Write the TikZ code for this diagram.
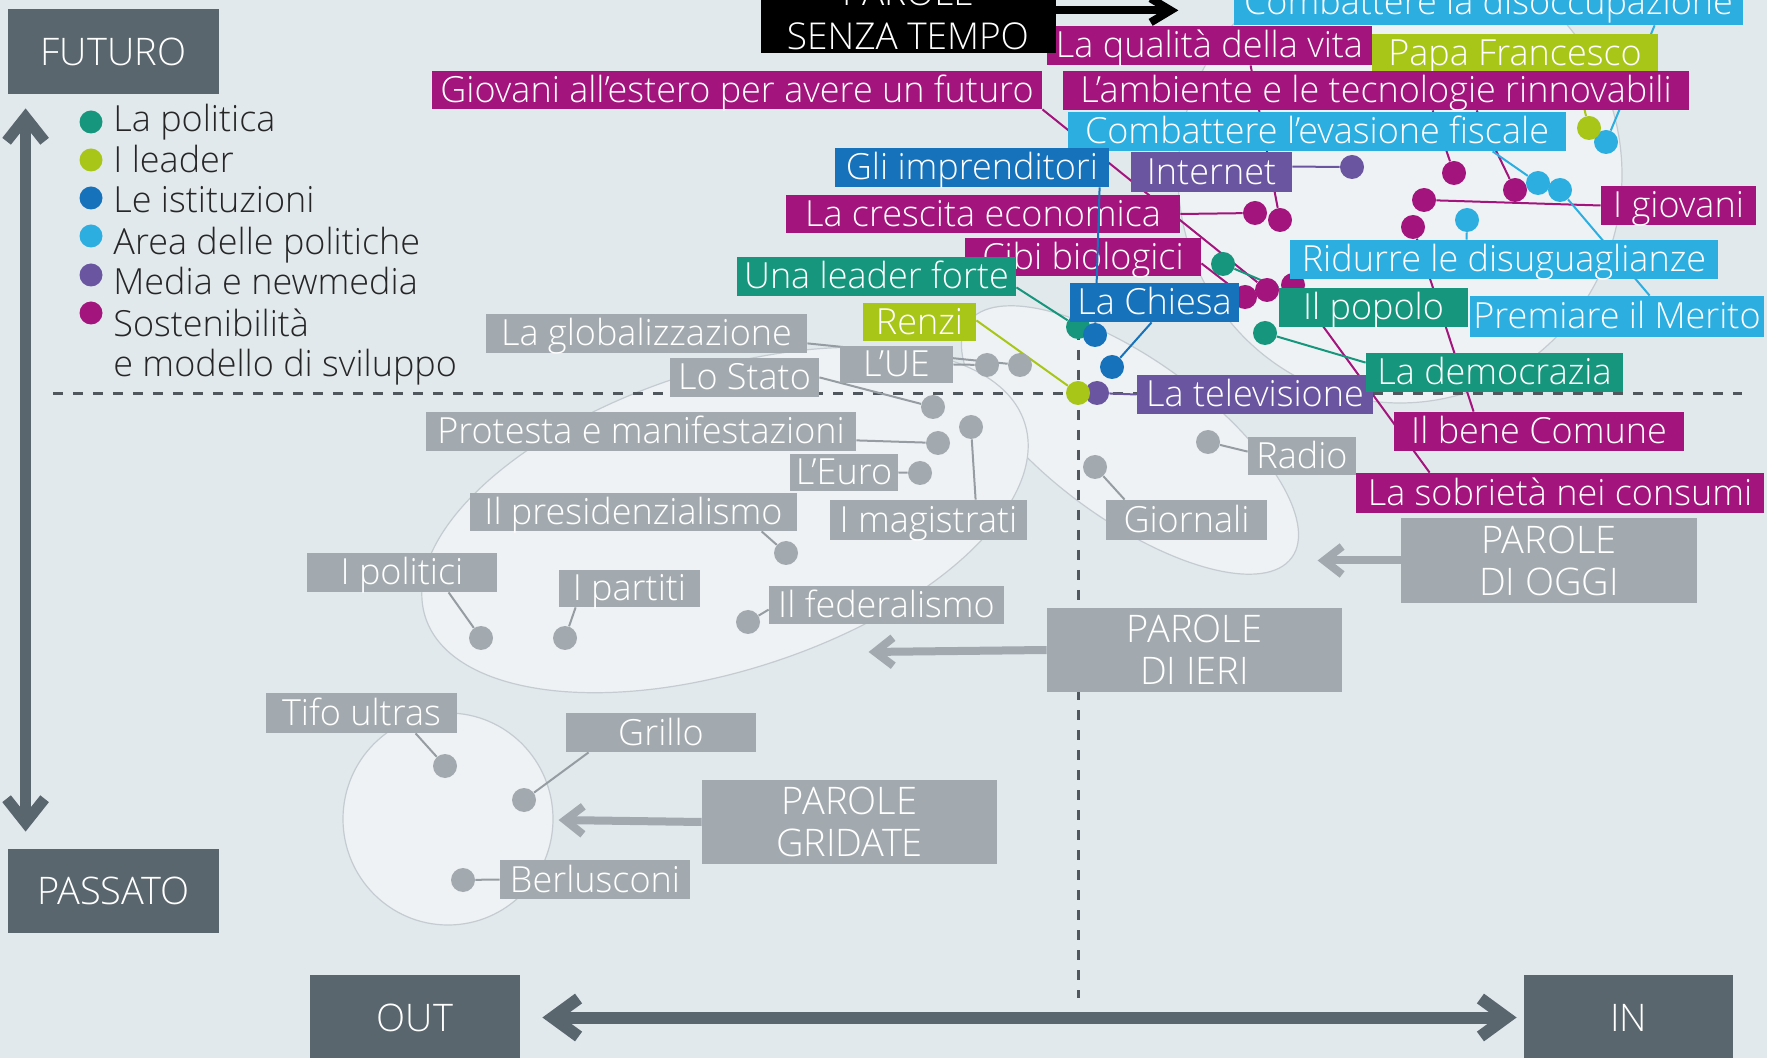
\documentclass[tikz,border=0pt]{standalone}
\usepackage{fontspec}
\IfFontExistsTF{Open Sans Light}{\setmainfont{Open Sans Light}}{\setmainfont{Open Sans}}
\usetikzlibrary{arrows.meta,calc}
\definecolor{bg}{RGB}{226,233,237}
\definecolor{ellf}{RGB}{238,242,244}
\definecolor{elld}{RGB}{196,204,209}
\definecolor{dk}{RGB}{90,102,110}
\definecolor{gr}{RGB}{163,170,175}
\definecolor{grl}{RGB}{150,157,162}
\definecolor{mg}{RGB}{163,20,125}
\definecolor{cy}{RGB}{44,174,224}
\definecolor{bl}{RGB}{22,114,186}
\definecolor{gn}{RGB}{22,150,124}
\definecolor{yg}{RGB}{168,198,24}
\definecolor{pu}{RGB}{106,86,160}
\definecolor{axis}{RGB}{80,88,93}
\pgfdeclarelayer{back}
\pgfdeclarelayer{lines}
\pgfdeclarelayer{dots}
\pgfdeclarelayer{top}
\pgfdeclarelayer{toptwo}
\pgfsetlayers{back,lines,dots,main,top,toptwo}
\newcommand{\lblfont}{\fontsize{18}{21}\selectfont}
\newcommand{\legfont}{\fontsize{18}{21}\selectfont}
\newcommand{\bigfont}{\fontsize{19}{21}\selectfont}
\newcommand{\mklab}[7]{\node[lbl, fill=#2, minimum width={((#5)-(#3))*0.5pt}, minimum height={((#6)-(#4))*0.5pt}] (#1) at ({((#3)+(#5))/2},{((#4)+(#6))/2}) {#7};}
\newcommand{\mkbig}[7]{\node[biglbl, fill=#2, minimum width={((#5)-(#3))*0.5pt}, minimum height={((#6)-(#4))*0.5pt}] (#1) at ({((#3)+(#5))/2},{((#4)+(#6))/2}) {#7};}
\newcommand{\mkdot}[4]{\node[dotc, fill=#2] (#1) at (#3,#4) {};}
\tikzset{
  lbl/.style={rectangle, inner sep=0pt, text=white, font=\lblfont, text height=12.5pt, text depth=0pt},
  biglbl/.style={rectangle, inner sep=0pt, text=white, font=\bigfont, align=center},
  dotc/.style={circle, inner sep=0pt, minimum size=12pt},
  ldot/.style={circle, inner sep=0pt, minimum size=11.5pt},
  legt/.style={inner sep=0pt, font=\legfont, text=black!85, anchor=base west},
  ln/.style={line width=1pt},
  ell/.style={fill=ellf, draw=elld, line width=0.6pt},
  axd/.style={draw=axis, line width=1.5pt, dash pattern=on 5pt off 5pt},
  bigarr/.style={draw=dk, line width=5.5pt},
  garr/.style={draw=gr, line width=4pt, -{Straight Barb[length=9pt,width=14pt]}},
}
\begin{document}
\begin{tikzpicture}[x=0.5pt, y=-0.5pt]
\useasboundingbox (0,0) rectangle (1767,1058);
\clip (0,0) rectangle (1767,1058);

\begin{pgfonlayer}{back}
\fill[bg] (0,0) rectangle (1767,1058);
% clouds
\draw[ell] (1400,175) ellipse (222 and 228);
\draw[ell, rotate around={-36:(1130,440)}] (1130,440) ellipse (200 and 80);
\draw[ell, rotate around={18:(725,520)}] (725,520) ellipse (315 and 150);
\draw[ell] (448,819) ellipse (105 and 106);
% axes
\draw[axd] (53,394) -- (1742,394);
\draw[axd] (1078,330) -- (1078,998);
\end{pgfonlayer}

% legend
\node[ldot, fill=gn] (ld1) at (91,122) {};
\node[ldot, fill=yg] (ld2) at (91,160) {};
\node[ldot, fill=bl] (ld3) at (91,198) {};
\node[ldot, fill=cy] (ld4) at (91,236) {};
\node[ldot, fill=pu] (ld5) at (91,275) {};
\node[ldot, fill=mg] (ld6) at (91,313) {};
\node[legt] (lt1) at (113,132) {La politica};
\node[legt] (lt2) at (113,173) {I leader};
\node[legt] (lt3) at (113,213) {Le istituzioni};
\node[legt] (lt4) at (113,255) {Area delle politiche};
\node[legt] (lt5) at (113,295) {Media e newmedia};
\node[legt] (lt6) at (113,337) {Sostenibilità};
\node[legt] (lt7) at (113,377) {e modello di sviluppo};

% dots
\begin{pgfonlayer}{dots}
\mkdot{dm1}{mg}{1255}{213}
\mkdot{dm2}{mg}{1280}{220}
\mkdot{dm3}{mg}{1245}{297}
\mkdot{dm4}{mg}{1267}{290}
\mkdot{dm5}{mg}{1293}{285}
\mkdot{dm6}{mg}{1424}{200}
\mkdot{dm7}{mg}{1413}{227}
\mkdot{dm8}{mg}{1454}{173}
\mkdot{dm9}{mg}{1515}{190}
\mkdot{dc1}{cy}{1606}{142}
\mkdot{dc2}{cy}{1538}{183}
\mkdot{dc3}{cy}{1560}{190}
\mkdot{dc4}{cy}{1467}{220}
\mkdot{dy1}{yg}{1589}{128}
\mkdot{dg1}{gn}{1078}{327}
\mkdot{db1}{bl}{1095}{335}
\mkdot{dg2}{gn}{1223}{264}
\mkdot{dg3}{gn}{1265}{333}
\mkdot{db2}{bl}{1112}{367}
\mkdot{dp1}{pu}{1352}{167}
\mkdot{dp2}{pu}{1097}{393}
\mkdot{dy2}{yg}{1078}{393}
\mkdot{dz1}{gr}{987}{365}
\mkdot{dz2}{gr}{1020}{365}
\mkdot{dz3}{gr}{933}{407}
\mkdot{dz4}{gr}{938}{443}
\mkdot{dz5}{gr}{971}{427}
\mkdot{dz6}{gr}{920}{473}
\mkdot{dz7}{gr}{786}{553}
\mkdot{dz8}{gr}{481}{638}
\mkdot{dz9}{gr}{565}{638}
\mkdot{dz10}{gr}{748}{622}
\mkdot{dz11}{gr}{445}{766}
\mkdot{dz12}{gr}{524}{800}
\mkdot{dz13}{gr}{463}{880}
\mkdot{dz14}{gr}{1208}{442}
\mkdot{dz15}{gr}{1095}{467}
\end{pgfonlayer}

% label boxes
\mklab{dis}{cy}{1234}{-20}{1743}{25}{Combattere la disoccupazione}
\mklab{qua}{mg}{1047}{26}{1372}{65}{La qualità della vita}
\mklab{pap}{yg}{1372}{34}{1658}{73}{Papa Francesco}
\mklab{gio}{mg}{432}{71}{1042}{109}{Giovani all’estero per avere un futuro}
\mklab{amb}{mg}{1063}{71}{1689}{110}{L’ambiente e le tecnologie rinnovabili}
\mklab{eva}{cy}{1068}{112}{1566}{151}{Combattere l’evasione fiscale}
\mklab{imp}{bl}{835}{148}{1109}{187}{Gli imprenditori}
\mklab{int}{pu}{1131}{152}{1292}{192}{Internet}
\mklab{igi}{mg}{1601}{186}{1756}{225}{I giovani}
\mklab{cre}{mg}{786}{195}{1180}{233}{La crescita economica}
\mklab{cib}{mg}{965}{238}{1201}{276}{Cibi biologici}
\mklab{rid}{cy}{1290}{240}{1718}{279}{Ridurre le disuguaglianze}
\mklab{ulf}{gn}{737}{257}{1016}{296}{Una leader forte}
\mklab{pop}{gn}{1279}{288}{1468}{327}{Il popolo}
\mklab{pre}{cy}{1470}{296}{1764}{337}{Premiare il Merito}
\mklab{ren}{yg}{863}{303}{976}{341}{Renzi}
\mklab{glo}{gr}{486}{314}{807}{353}{La globalizzazione}
\mklab{ue}{gr}{840}{346}{953}{383}{L'UE}
\mklab{sta}{gr}{670}{358}{819}{397}{Lo Stato}
\mklab{tel}{pu}{1137}{375}{1373}{414}{La televisione}
\mklab{dem}{gn}{1366}{353}{1623}{392}{La democrazia}
\mklab{pro}{gr}{426}{412}{856}{451}{Protesta e manifestazioni}
\mklab{ben}{mg}{1394}{412}{1684}{451}{Il bene Comune}
\mklab{rad}{gr}{1248}{437}{1356}{475}{Radio}
\mklab{eur}{gr}{790}{454}{898}{491}{L’Euro}
\mklab{sob}{mg}{1356}{473}{1764}{513}{La sobrietà nei consumi}
\mklab{pres}{gr}{470}{493}{797}{531}{Il presidenzialismo}
\mklab{magi}{gr}{830}{500}{1027}{540}{I magistrati}
\mklab{gior}{gr}{1106}{500}{1267}{540}{Giornali}
\mklab{poli}{gr}{307}{553}{497}{592}{I politici}
\mklab{part}{gr}{559}{570}{700}{607}{I partiti}
\mklab{fede}{gr}{769}{586}{1004}{624}{Il federalismo}
\mklab{tifo}{gr}{266}{693}{457}{733}{Tifo ultras}
\mklab{gril}{gr}{566}{713}{756}{752}{Grillo}
\mklab{berl}{gr}{500}{860}{690}{899}{Berlusconi}
\begin{pgfonlayer}{toptwo}
\mklab{chi}{bl}{1070}{283}{1239}{322}{La Chiesa}
\end{pgfonlayer}

% big boxes
\mkbig{psnz}{black}{761}{-60}{1056}{53}{}
\node[font=\fontsize{18.5}{22}\selectfont, text=white, align=center, inner sep=0pt] (psnzt) at (908,14) {PAROLE\\SENZA TEMPO};
\mkbig{pieri}{gr}{1047}{608}{1342}{692}{PAROLE\\DI IERI}
\mkbig{poggi}{gr}{1401}{518}{1697}{603}{PAROLE\\DI OGGI}
\mkbig{pgrid}{gr}{702}{780}{997}{864}{PAROLE\\GRIDATE}
\mkbig{fut}{dk}{8}{9}{219}{94}{FUTURO}
\mkbig{pas}{dk}{8}{849}{219}{933}{PASSATO}
\mkbig{out}{dk}{310}{975}{520}{1060}{OUT}
\mkbig{inn}{dk}{1524}{975}{1733}{1060}{IN}

% connectors
\begin{pgfonlayer}{lines}
\draw[ln, mg] (gio.south east) -- (dm4);
\draw[ln, mg] (cre.east) -- (dm1);
\draw[ln, mg] ($(qua.south west)+(204,0)$) -- (dm2);
\draw[ln, mg] ($(amb.south west)+(370,0)$) -- (dm8);
\draw[ln, mg] ($(amb.south west)+(414,0)$) -- (dm9);
\draw[ln, mg] ($(cib.south east)+(0,-13)$) -- (dm3);
\draw[ln, mg] (igi.west) -- (dm6);
\draw[ln, mg] ($(ben.north west)+(80,0)$) -- (dm7);
\draw[ln, mg] ($(sob.north west)+(74,0)$) -- (dm5);
\draw[ln, gn] ($(ulf.south east)+(0,-9)$) -- (dg1);
\draw[ln, gn] (pop.north west) -- (dg2);
\draw[ln, gn] ($(dem.north west)+(0,10)$) -- (dg3);
\draw[ln, bl] ($(chi.south west)+(82,0)$) -- (db2);
\draw[ln, yg] ($(ren.south east)+(0,-21)$) -- (dy2);
\draw[ln, yg] ($(pap.south west)+(204,0)$) -- (dy1);
\draw[ln, pu] (tel.west) -- (dp2);
\draw[ln, pu] ($(int.north east)+(0,15)$) -- (dp1);
\draw[ln, cy] ($(rid.north west)+(177,0)$) -- (dc4);
\draw[ln, cy] ($(pre.north west)+(180,0)$) -- (dc3);
\draw[ln, cy] ($(eva.south west)+(425,0)$) -- (dc2);
\draw[ln, cy] ($(dis.south west)+(421,0)$) -- (dc1);
\draw[ln, grl] ($(glo.south east)+(0,-10)$) -- (dz2);
\draw[ln, grl] (ue.east) -- (dz1);
\draw[ln, grl] ($(sta.south east)+(0,-20)$) -- (dz3);
\draw[ln, grl] ($(pro.south east)+(0,-11)$) -- (dz4);
\draw[ln, grl] (eur.east) -- (dz6);
\draw[ln, grl] ($(magi.north west)+(146,0)$) -- (dz5);
\draw[ln, grl] ($(pres.south west)+(292,0)$) -- (dz7);
\draw[ln, grl] ($(poli.south west)+(142,0)$) -- (dz8);
\draw[ln, grl] ($(part.south west)+(17,0)$) -- (dz9);
\draw[ln, grl] ($(fede.north west)+(0,24)$) -- (dz10);
\draw[ln, grl] ($(tifo.south west)+(150,0)$) -- (dz11);
\draw[ln, grl] ($(gril.south west)+(23,0)$) -- (dz12);
\draw[ln, grl] (berl.west) -- (dz13);
\draw[ln, grl] ($(rad.north west)+(0,15)$) -- (dz14);
\draw[ln, grl] ($(gior.north west)+(19,0)$) -- (dz15);
% arrows
\draw[garr] (pieri.west) -- ($(pieri.west)+(-178,2)$);
\draw[garr] (poggi.west) -- ($(poggi.west)+(-83,0)$);
\draw[garr] (pgrid.west) -- ($(pgrid.west)+(-143,-2)$);
\end{pgfonlayer}

\begin{pgfonlayer}{top}
\draw[ln, bl] ($(imp.south west)+(265,0)$) -- (db1);
\end{pgfonlayer}

% axis arrows
\draw[bigarr, {Straight Barb[length=12pt,width=19pt]}-{Straight Barb[length=12pt,width=19pt]}] ($(fut.south west)+(18,14)$) -- ($(pas.north west)+(18,-17)$);
\draw[draw=dk, line width=6pt, {Straight Barb[length=13pt,width=19pt]}-{Straight Barb[length=13pt,width=19pt]}] ($(out.east)+(22,0)$) -- ($(inn.west)+(-7,0)$);
\draw[draw=black, line width=4pt, -{Straight Barb[length=10pt,width=12pt]}] ($(psnz.south east)+(0,-43)$) -- ($(psnz.south east)+(122,-43)$);
\end{tikzpicture}
\end{document}
